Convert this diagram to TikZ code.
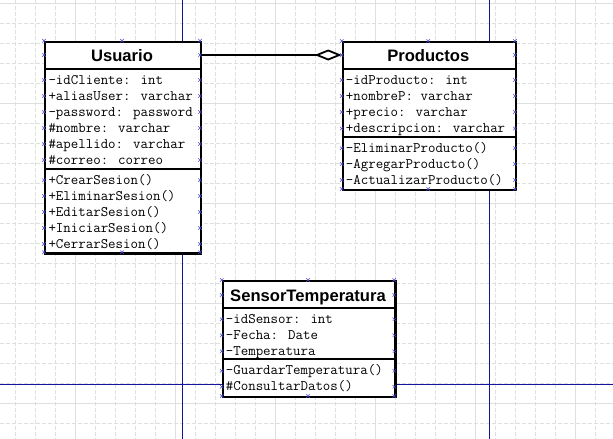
\documentclass[tikz,border=0pt]{standalone}
\usepackage{fontspec}
\newfontfamily\titlef{Liberation Sans}
\usetikzlibrary{arrows.meta,shapes.misc}
\definecolor{gridc}{HTML}{DCE0DF}
\definecolor{pageblue}{HTML}{1414A0}
\definecolor{handlec}{HTML}{4A4AD8}
\begin{document}
\begin{tikzpicture}[x=1pt,y=-1pt,
  classbox/.style={draw=black, line width=2.4pt, fill=white, rectangle, inner sep=0pt, anchor=north west},
  ctitle/.style={font=\titlef\bfseries\fontsize{16.6}{18}\selectfont, inner sep=0pt, text height=12pt, text depth=0pt},
  member/.style={font=\ttfamily\fontsize{14.5}{16}\selectfont, anchor=base west, inner sep=0pt},
  sepline/.style={line width=2.2pt},
  assoc/.style={line width=2pt, -{Diamond[length=27pt, width=11pt, fill=white, line width=1.8pt]}},
  minorgrid/.style={gridc, line width=0.8pt, dash pattern=on 4pt off 2pt},
  majorgrid/.style={gridc, line width=0.9pt},
  pageline/.style={pageblue, line width=1pt},
  handle/.style={cross out, draw=handlec, line width=0.5pt, minimum size=3pt, inner sep=0pt}
]
\useasboundingbox (0,0) rectangle (613,439);
\fill[white] (0,0) rectangle (613,439);
% grid
\foreach \x in {15.7,35.7,...,600} \draw[minorgrid] (\x,0) -- (\x,439);
\foreach \y in {3.3,23.3,...,439} \draw[minorgrid] (0,\y) -- (613,\y);
\foreach \x in {75.7,175.7,...,600} \draw[majorgrid] (\x,0) -- (\x,439);
\foreach \y in {3.3,103.3,...,439} \draw[majorgrid] (0,\y) -- (613,\y);
% page borders
\draw[pageline] (182.3,0) -- (182.3,439);
\draw[pageline] (489.3,0) -- (489.3,439);
\draw[pageline] (0,384) -- (613,384);

% ---------------- Usuario
\node[classbox, minimum width=156pt, minimum height=211.6pt] (usuario) at (44,40.7) {};
\node[ctitle] (utitle) at (122,55) {Usuario};
\draw[sepline] (usuario.west |- 0,69) -- (usuario.east |- 0,69);
\draw[sepline] (usuario.west |- 0,169) -- (usuario.east |- 0,169);
\foreach \t [count=\i from 0] in {-idCliente: int,+aliasUser: varchar,-password: password,\#nombre: varchar,\#apellido: varchar,\#correo: correo}
  \node[member] (ua\i) at (48.3,84+16*\i) {\t};
\foreach \t [count=\i from 0] in {+CrearSesion(),+EliminarSesion(),+EditarSesion(),+IniciarSesion(),+CerrarSesion()}
  \node[member] (um\i) at (48.3,184.3+16*\i) {\t};

% ---------------- Productos
\node[classbox, minimum width=173.3pt, minimum height=148pt] (productos) at (341.7,41) {};
\node[ctitle] (ptitle) at (428.3,55) {Productos};
\draw[sepline] (productos.west |- 0,69) -- (productos.east |- 0,69);
\draw[sepline] (productos.west |- 0,137.3) -- (productos.east |- 0,137.3);
\foreach \t [count=\i from 0] in {-idProducto: int,+nombreP: varchar,+precio: varchar,+descripcion: varchar}
  \node[member] (pa\i) at (345.7,84.3+16*\i) {\t};
\foreach \t [count=\i from 0] in {-EliminarProducto(),-AgregarProducto(),-ActualizarProducto()}
  \node[member] (pm\i) at (345.7,152.3+16*\i) {\t};

% ---------------- SensorTemperatura
\node[classbox, minimum width=172.6pt, minimum height=116pt] (sensor) at (221.7,280) {};
\node[ctitle] (stitle) at (308,295) {SensorTemperatura};
\draw[sepline] (sensor.west |- 0,308.3) -- (sensor.east |- 0,308.3);
\draw[sepline] (sensor.west |- 0,359.3) -- (sensor.east |- 0,359.3);
\foreach \t [count=\i from 0] in {-idSensor: int,-Fecha: Date,-Temperatura}
  \node[member] (sa\i) at (225.7,323.3+16*\i) {\t};
\foreach \t [count=\i from 0] in {-GuardarTemperatura(),\#ConsultarDatos()}
  \node[member] (sm\i) at (225.7,374.8+16*\i) {\t};

% ---------------- association
\draw[assoc] (utitle -| usuario.east) -- (ptitle -| productos.west);

% ---------------- selection handles
\foreach \y [count=\i] in {40.7,55,80,96,112,128,144,160,180.3,196,212,228,244,252.3}{
  \node[handle] (hul\i) at (44,\y) {};
  \node[handle] (hur\i) at (200,\y) {};}
\node[handle] (hut) at (122,40.7) {};
\node[handle] (hub) at (122,252.3) {};
\foreach \y [count=\i] in {41,55,80,96,112,128.5,148.3,164,180,189}{
  \node[handle] (hpl\i) at (341.7,\y) {};
  \node[handle] (hpr\i) at (515,\y) {};}
\node[handle] (hpt) at (428.3,41) {};
\node[handle] (hpb) at (428.3,189) {};
\foreach \y [count=\i] in {280,295,319.3,335.3,351.3,370.8,386.8,396}{
  \node[handle] (hsl\i) at (221.7,\y) {};
  \node[handle] (hsr\i) at (394.3,\y) {};}
\node[handle] (hst) at (308,280) {};
\node[handle] (hsb) at (308,396) {};
\end{tikzpicture}
\end{document}
